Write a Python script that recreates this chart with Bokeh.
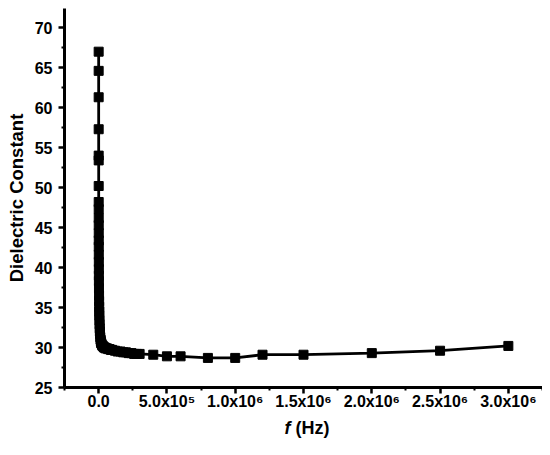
from bokeh.plotting import figure
from bokeh.models import Range1d, FixedTicker, ColumnDataSource, Div
from bokeh.layouts import column
from bokeh.embed import file_html
from bokeh.resources import INLINE

# ---- data ----
freq_hz = [100, 150, 200, 250, 300, 350, 400, 450, 500, 600, 700, 800, 900, 1000,
           1200, 1400, 1600, 1800, 2000, 2500, 3000, 3500, 4000, 4500, 5000, 6000,
           7000, 8000, 9000, 10000, 12000, 14000, 16000, 18000, 20000, 25000, 30000,
           35000, 40000, 45000, 50000, 60000, 70000, 80000, 90000, 100000, 120000,
           140000, 160000, 180000, 200000, 220000, 240000, 260000, 280000, 300000,
           400000, 500000, 600000, 800000, 1000000, 1200000, 1500000, 2000000,
           2500000, 3000000]
dielectric_constant = [67.0, 64.6, 61.3, 57.3, 54.0, 53.4, 50.2, 48.2, 47.3, 46.2, 45.3,
                       44.3, 43.4, 42.6, 41.6, 40.7, 39.8, 39.0, 38.3, 37.4, 36.5, 35.8,
                       35.1, 34.5, 34.0, 33.4, 32.9, 32.4, 32.0, 31.7, 31.3, 31.0, 30.8,
                       30.6, 30.5, 30.3, 30.2, 30.1, 30.0, 30.0, 29.9, 29.9, 29.8, 29.8,
                       29.7, 29.7, 29.6, 29.5, 29.5, 29.4, 29.4, 29.3, 29.3, 29.2, 29.2,
                       29.2, 29.1, 28.9, 28.9, 28.7, 28.7, 29.1, 29.1, 29.3, 29.6, 30.2]
x_ticks = [0, 500000, 1000000, 1500000, 2000000, 2500000, 3000000]
x_tick_labels = ["0.0", "5.0x10\u2075", "1.0x10\u2076", "1.5x10\u2076", "2.0x10\u2076",
                 "2.5x10\u2076", "3.0x10\u2076"]
x_minor_ticks = [-250000, 250000, 750000, 1250000, 1750000, 2250000, 2750000, 3250000]
y_ticks = [25, 30, 35, 40, 45, 50, 55, 60, 65, 70]
y_minor_ticks = [27.5, 32.5, 37.5, 42.5, 47.5, 52.5, 57.5, 62.5, 67.5]
y_title = "Dielectric Constant"
x_title_italic = "f"
x_title_rest = "(Hz)"

FONT = "Liberation Sans"
LEFT = 64
FRAME_W = 478
FRAME_H = 379
TOP = 8
BOTTOM = 30

src = ColumnDataSource(dict(f=freq_hz, eps=dielectric_constant))

p = figure(frame_width=FRAME_W, frame_height=FRAME_H,
           x_range=Range1d(-250000, 3250000), y_range=Range1d(25, 72.4),
           output_backend="svg", toolbar_location=None,
           min_border_left=LEFT, min_border_right=0, min_border_top=TOP,
           min_border_bottom=BOTTOM)
p.outline_line_color = None
p.background_fill_color = "white"
p.border_fill_color = "white"
p.xgrid.visible = False
p.ygrid.visible = False

p.line("f", "eps", source=src, line_color="black", line_width=2.8)
p.scatter("f", "eps", source=src, marker="square", size=9,
          fill_color="black", line_color="black")

for ax in (p.xaxis[0], p.yaxis[0]):
    ax.axis_line_width = 3
    ax.axis_line_color = "black"
    ax.major_tick_line_width = 2.5
    ax.minor_tick_line_width = 2
    ax.major_tick_in = 0
    ax.major_tick_out = 6
    ax.minor_tick_in = 0
    ax.minor_tick_out = 3
    ax.major_label_text_font = FONT
    ax.major_label_text_font_style = "bold"
    ax.major_label_text_font_size = "16px"
    ax.major_label_text_color = "black"
    ax.axis_label_text_font = FONT
    ax.axis_label_text_font_style = "bold"
    ax.axis_label_text_font_size = "18.5px"
    ax.axis_label_text_color = "black"

p.xaxis.ticker = FixedTicker(ticks=x_ticks, minor_ticks=x_minor_ticks)
p.xaxis.major_label_overrides = {t: lab for t, lab in zip(x_ticks, x_tick_labels)}
p.xaxis.major_label_standoff = -1

p.yaxis.ticker = FixedTicker(ticks=y_ticks, minor_ticks=y_minor_ticks)
p.yaxis.major_label_standoff = 6
p.yaxis.axis_label = y_title
p.yaxis.axis_label_standoff = 5

total_w = LEFT + FRAME_W
xlabel = Div(
    text=(f"<div style='width:{total_w - LEFT}px;margin-left:{LEFT + 4}px;text-align:center;"
          f"font-family:\"{FONT}\";font-weight:bold;font-size:18px;line-height:22px;color:black'>"
          f"<i>{x_title_italic}</i> {x_title_rest}</div>"),
    width=total_w, height=30, margin=(0, 0, 0, 0))

layout = column(p, xlabel, spacing=0)
open("out.html", "w").write(file_html(layout, INLINE))
